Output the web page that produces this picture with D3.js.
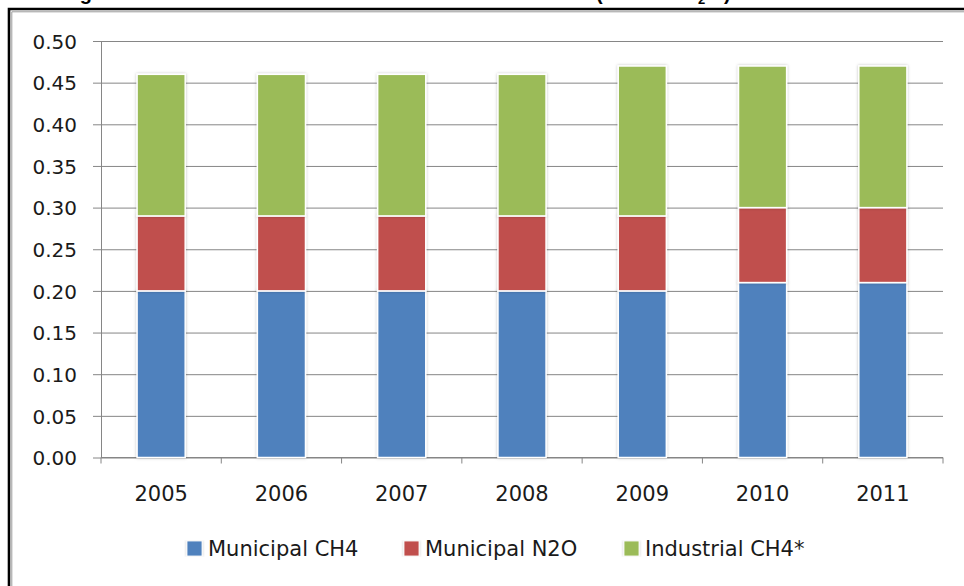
<!DOCTYPE html>
<html>
<head>
<meta charset="utf-8">
<script src="https://cdn.jsdelivr.net/npm/d3@7"></script>
<style>
  html, body { margin: 0; padding: 0; background: #ffffff; }
  svg { display: block; }
  .tick text { font-family: 'DejaVu Sans', sans-serif; fill: #1a1a1a; }
  .legend text { font-family: 'DejaVu Sans', sans-serif; fill: #1a1a1a; }
  .title { font-family: 'Liberation Sans', Arial, sans-serif; font-weight: bold; fill: #000; }
</style>
</head>
<body>
<div id="chart"></div>
<script>
const years = ['2005', '2006', '2007', '2008', '2009', '2010', '2011'];
const municipalCH4 = [0.20, 0.20, 0.20, 0.20, 0.20, 0.21, 0.21];
const municipalN2O = [0.09, 0.09, 0.09, 0.09, 0.09, 0.09, 0.09];
const industrialCH4 = [0.17, 0.17, 0.17, 0.17, 0.18, 0.17, 0.17];
const yTicks = [0, 0.05, 0.10, 0.15, 0.20, 0.25, 0.30, 0.35, 0.40, 0.45, 0.50];
const seriesNames = ['Municipal CH4', 'Municipal N2O', 'Industrial CH4*'];
const seriesKeys = ['mCH4', 'mN2O', 'iCH4'];
const colors = ['#4f81bd', '#c0504d', '#9bbb59'];

const W = 964, H = 586;
const margin = { top: 41, right: 21, bottom: 128.5, left: 101 };
const width = W - margin.left - margin.right;
const height = H - margin.top - margin.bottom;

const rows = years.map((y, i) => ({
  year: y,
  mCH4: municipalCH4[i],
  mN2O: municipalN2O[i],
  iCH4: industrialCH4[i]
}));

const stacked = d3.stack().keys(seriesKeys)(rows);

const svg = d3.select('#chart')
  .append('svg')
  .attr('width', W)
  .attr('height', H);

const defs = svg.append('defs');
const shadow = defs.append('filter').attr('id', 'barShadow')
  .attr('x', '-20%').attr('y', '-5%').attr('width', '140%').attr('height', '110%');
shadow.append('feDropShadow')
  .attr('dx', 0).attr('dy', 0).attr('stdDeviation', 1.6)
  .attr('flood-color', '#000').attr('flood-opacity', 0.25);

// title sits above the page edge, only its descenders show (as in the scan)
const title = svg.append('text').attr('class', 'title').attr('font-size', 20).attr('y', 0);
title.append('tspan').attr('x', 62).text('Figure 8-3: Wastewater Treatment Emissions ');
title.append('tspan').attr('x', 596).text('(MMT CO');
title.append('tspan').attr('x', 698).attr('font-size', 13).attr('dy', 4).text('2');
title.append('tspan').attr('x', 724).attr('dy', -4).text(')');

// outer frame
svg.append('path')
  .attr('d', `M9,${H + 5}V9H${W + 5}`)
  .attr('fill', 'none').attr('stroke', '#000').attr('stroke-width', 2.6);
svg.append('path')
  .attr('d', `M11.8,${H + 5}V11.8H${W + 5}`)
  .attr('fill', 'none').attr('stroke', '#9a9a9a').attr('stroke-width', 1);

const g = svg.append('g').attr('transform', `translate(${margin.left},${margin.top})`);

const x = d3.scaleBand().domain(years).range([0, width]).paddingInner(0.6).paddingOuter(0.3);
const xEdges = d3.scaleLinear().domain([0, years.length]).range([0, width]);
const y = d3.scaleLinear().domain([0, 0.5]).range([height, 0]);

// y axis with gridlines
const yAxis = d3.axisLeft(y)
  .tickValues(yTicks)
  .tickFormat(d3.format('.2f'))
  .tickSizeInner(-width)
  .tickSizeOuter(0)
  .tickPadding(24);

g.append('g')
  .attr('class', 'y axis')
  .call(yAxis)
  .call(s => s.select('.domain').attr('stroke', '#868686'))
  .call(s => s.selectAll('.tick line').attr('stroke', '#868686').attr('x1', -8))
  .call(s => s.selectAll('.tick text').attr('font-size', 20).attr('x', -24).attr('dy', '0.36em'));

// x axis: ticks at category boundaries
const xAxis = g.append('g')
  .attr('class', 'x axis')
  .attr('transform', `translate(0,${height})`);
xAxis.append('line')
  .attr('x1', 0).attr('x2', width)
  .attr('stroke', '#868686');
xAxis.selectAll('line.edge')
  .data(d3.range(years.length + 1))
  .join('line')
  .attr('class', 'edge')
  .attr('x1', d => xEdges(d)).attr('x2', d => xEdges(d))
  .attr('y1', 0).attr('y2', 6)
  .attr('stroke', '#868686');
xAxis.selectAll('text')
  .data(years)
  .join('text')
  .attr('x', d => x(d) + x.bandwidth() / 2)
  .attr('y', 43)
  .attr('text-anchor', 'middle')
  .attr('font-family', "'DejaVu Sans', sans-serif")
  .attr('font-size', 21)
  .attr('fill', '#1a1a1a')
  .text(d => d);

// stacked bars
const layers = g.append('g').attr('class', 'bars');
layers.selectAll('g.series')
  .data(stacked)
  .join('g')
  .attr('class', 'series')
  .attr('fill', (d, i) => colors[i])
  .selectAll('rect')
  .data(d => d)
  .join('rect')
  .attr('x', d => x(d.data.year))
  .attr('width', x.bandwidth())
  .attr('y', d => y(d[1]))
  .attr('height', d => y(d[0]) - y(d[1]))
  .attr('stroke', '#ffffff')
  .attr('stroke-width', 1.5)
  .attr('filter', 'url(#barShadow)');

// legend
const legendX = [187, 404, 624];
const legend = svg.append('g').attr('class', 'legend');
const items = legend.selectAll('g')
  .data(seriesNames)
  .join('g')
  .attr('transform', (d, i) => `translate(${legendX[i]},541)`);
items.append('rect')
  .attr('width', 15).attr('height', 15)
  .attr('fill', (d, i) => colors[i])
  .attr('stroke', '#ffffff').attr('stroke-width', 0.8)
  .attr('filter', 'url(#barShadow)');
items.append('text')
  .attr('x', 21)
  .attr('y', 15)
  .attr('font-size', 21)
  .text(d => d);
</script>
</body>
</html>
